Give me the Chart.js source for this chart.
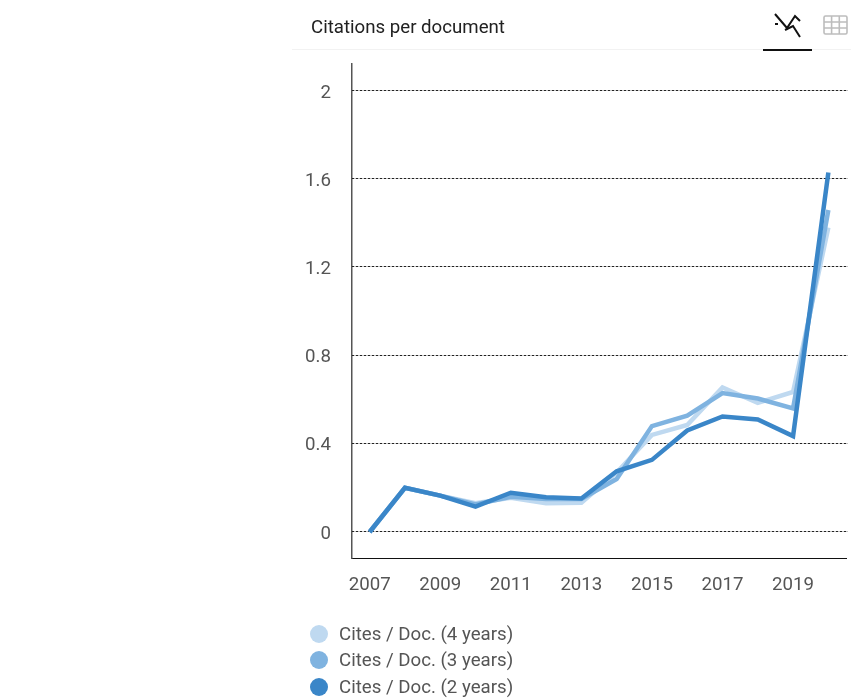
<!DOCTYPE html>
<html>
<head>
<meta charset="utf-8">
<title>Citations per document</title>
<script src="https://cdn.jsdelivr.net/npm/chart.js@4"></script>
<style>
    html, body { margin: 0; padding: 0; background: #fff; }
    body { width: 851px; height: 698px; position: relative; overflow: hidden; font-family: Roboto, sans-serif; }
    #chartWrap { position: absolute; left: 0; top: 0; width: 851px; height: 698px; }
    .title { position: absolute; left: 311px; top: 16px; font-size: 18.67px; line-height: 22px; color: #212121; }
    .header-line { position: absolute; left: 292px; top: 49px; width: 559px; height: 1px; background: #f2f2f2; }
    .tab-line { position: absolute; left: 763px; top: 49px; width: 49px; height: 2px; background: #111; }
    .icon { position: absolute; }
    #legend { position: absolute; left: 310px; top: 620.5px; }
    .legend-row { height: 26.5px; display: flex; align-items: center; font-size: 18.67px; color: #555; white-space: nowrap; }
    .legend-dot { width: 18px; height: 18px; border-radius: 50%; margin-right: 11px; }
</style>
</head>
<body>
<div id="chartWrap"><canvas id="citesChart"></canvas></div>
<div class="title">Citations per document</div>
<div class="header-line"></div>
<div class="tab-line"></div>
<svg class="icon" style="left:772px;top:12px" width="30" height="26" viewBox="0 0 30 26" fill="none" stroke="#111" stroke-width="2">
    <path d="M3 2 L15 16 L23 4 L28 9"/>
    <path d="M3 12 L6 12"/>
    <path d="M13 18 L21 14 L28 25"/>
</svg>
<svg class="icon" style="left:823px;top:15px" width="25" height="21" viewBox="0 0 25 21" fill="none" stroke="#bdbdbd" stroke-width="1.6">
    <rect x="1" y="1" width="23" height="18" rx="1.5"/>
    <path d="M1 7 H24 M1 13 H24 M8.6 1 V19 M16.3 1 V19"/>
</svg>
<div id="legend"></div>
<script>
document.addEventListener('DOMContentLoaded', () => {
    const years = ['2007', '2008', '2009', '2010', '2011', '2012', '2013', '2014', '2015', '2016', '2017', '2018', '2019', '2020'];
    const cites4 = [0, 0.2, 0.165, 0.13, 0.155, 0.13, 0.133, 0.27, 0.44, 0.485, 0.655, 0.585, 0.635, 1.38];
    const cites3 = [0, 0.2, 0.165, 0.125, 0.16, 0.15, 0.15, 0.24, 0.48, 0.527, 0.63, 0.605, 0.56, 1.46];
    const cites2 = [0, 0.2, 0.165, 0.115, 0.178, 0.157, 0.152, 0.275, 0.327, 0.46, 0.524, 0.51, 0.435, 1.63];
    const yTicks = [0, 0.4, 0.8, 1.2, 1.6, 2];
    const seriesNames = ['Cites / Doc. (4 years)', 'Cites / Doc. (3 years)', 'Cites / Doc. (2 years)'];
    const seriesColors = ['#bfd9f0', '#7fb3e0', '#3a86c8'];
    const seriesValues = [cites4, cites3, cites2];

    // Leyenda en HTML, en columna como el original
    const legend = document.getElementById('legend');
    seriesNames.forEach((name, i) => {
        const row = document.createElement('div');
        row.className = 'legend-row';
        row.innerHTML = `<span class="legend-dot" style="background:${seriesColors[i]}"></span><span>${name}</span>`;
        legend.appendChild(row);
    });

    // Lineas de la cuadricula: base gris clara y punteado oscuro encima
    const dashedGrid = {
        id: 'dashedGrid',
        beforeDatasetsDraw(chart) {
            const { ctx, chartArea, scales } = chart;
            ctx.save();
            ctx.lineWidth = 1;
            yTicks.forEach(t => {
                const y = Math.round(scales.y.getPixelForValue(t)) - 0.5;
                ctx.strokeStyle = '#c4c4c4';
                ctx.setLineDash([]);
                ctx.beginPath(); ctx.moveTo(chartArea.left, y); ctx.lineTo(chartArea.right + 2, y); ctx.stroke();
                ctx.strokeStyle = '#222';
                ctx.setLineDash([2, 2]);
                ctx.beginPath(); ctx.moveTo(chartArea.left, y); ctx.lineTo(chartArea.right + 2, y); ctx.stroke();
            });
            ctx.restore();
        }
    };

    // Baja un poco las etiquetas del eje Y, Roboto queda alta con baseline middle
    const nudgeYLabels = {
        id: 'nudgeYLabels',
        afterLayout(chart) {
            chart.scales.y.getLabelItems(chart.chartArea).forEach(item => {
                item.options.translation[1] += 2;
            });
        }
    };

    new Chart(document.getElementById('citesChart'), {
        type: 'line',
        data: {
            labels: years,
            datasets: seriesValues.map((values, i) => ({
                label: seriesNames[i],
                data: values,
                order: seriesValues.length - i,
                borderColor: seriesColors[i],
                backgroundColor: seriesColors[i],
                borderWidth: 4.5,
                pointRadius: 0,
                tension: 0,
                borderJoinStyle: 'miter',
                clip: false
            }))
        },
        options: {
            responsive: true,
            maintainAspectRatio: false,
            animation: false,
            layout: { padding: { left: 0, top: 64, right: 5, bottom: 0 } },
            plugins: { legend: { display: false }, tooltip: { enabled: false } },
            scales: {
                x: {
                    offset: true,
                    grid: { display: false },
                    border: { color: '#111', width: 1 },
                    ticks: {
                        autoSkip: false, maxRotation: 0, padding: 8,
                        color: '#555', font: { family: 'Roboto', size: 18.67 },
                        callback(value, index) { return index % 2 === 0 ? years[index] : ''; }
                    },
                    afterFit(scale) { scale.height = 140; }
                },
                y: {
                    min: -0.118,
                    max: 2.122,
                    grid: { display: false },
                    border: { color: '#555', width: 1.5 },
                    afterBuildTicks(scale) { scale.ticks = yTicks.map(value => ({ value })); },
                    afterFit(scale) { scale.width = 352; },
                    ticks: {
                        padding: 13,
                        color: '#555', font: { family: 'Roboto', size: 18.67 },
                        callback(value) { return String(value); }
                    }
                }
            }
        },
        plugins: [dashedGrid, nudgeYLabels]
    });
});
</script>
</body>
</html>
